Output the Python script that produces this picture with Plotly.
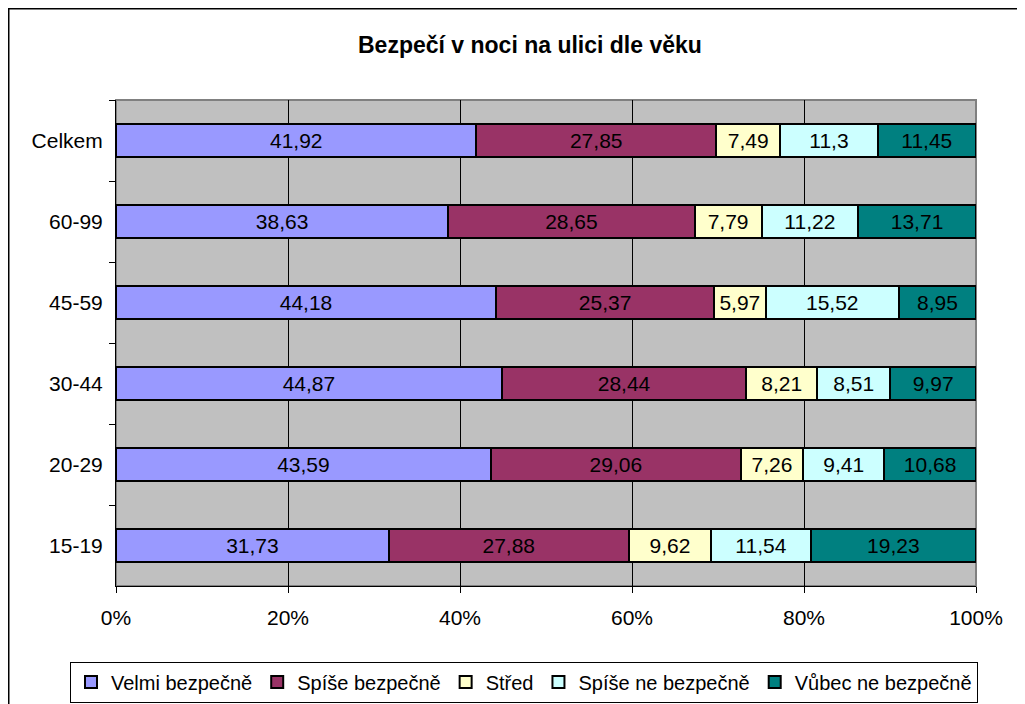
import plotly.graph_objects as go

categories = ["Celkem", "60-99", "45-59", "30-44", "20-29", "15-19"]
series_names = ["Velmi bezpečně", "Spíše bezpečně", "Střed", "Spíše ne bezpečně", "Vůbec ne bezpečně"]
velmi = [41.92, 38.63, 44.18, 44.87, 43.59, 31.73]
spise = [27.85, 28.65, 25.37, 28.44, 29.06, 27.88]
stred = [7.49, 7.79, 5.97, 8.21, 7.26, 9.62]
spise_ne = [11.3, 11.22, 15.52, 8.51, 9.41, 11.54]
vubec = [11.45, 13.71, 8.95, 9.97, 10.68, 19.23]
x_tick_vals = [0, 20, 40, 60, 80, 100]
x_tick_text = ["0%", "20%", "40%", "60%", "80%", "100%"]

colors = ["#9999FF", "#993366", "#FFFFCC", "#CCFFFF", "#008080"]
series = [velmi, spise, stred, spise_ne, vubec]

FONT = "Arial, Liberation Sans, sans-serif"

fig = go.Figure()
for name, vals, col in zip(series_names, series, colors):
    fig.add_trace(go.Bar(
        y=categories, x=vals, name=name, orientation="h",
        marker=dict(color=col, line=dict(color="black", width=2)),
        text=[str(v).replace(".", ",") for v in vals],
        textposition="inside", insidetextanchor="middle", textangle=0,
        textfont=dict(family=FONT, size=21, color="black"),
        hoverinfo="skip",
    ))

# page has an 8px body margin; plot area in page px: x 116..976, y 100..586
def px(xp):
    return (xp - 116) / 860.0
def py(yp):
    return (586 - yp) / 486.0

fig.update_layout(
    width=1017, height=696,
    barmode="stack", barnorm="percent", bargap=0.6,
    paper_bgcolor="white", plot_bgcolor="#C0C0C0",
    margin=dict(l=108, r=49, t=92, b=118, pad=0, autoexpand=False),
    font=dict(family=FONT, size=21, color="black"),
    uniformtext=dict(minsize=21, mode="show"),
    showlegend=True,
    legend=dict(
        orientation="h", x=px(70), y=py(682), xanchor="left", yanchor="middle",
        bordercolor="black", borderwidth=1, bgcolor="white",
        font=dict(family=FONT, size=20, color="black"),
        itemwidth=30, traceorder="normal",
    ),
    annotations=[dict(
        text="<b>Bezpečí v noci na ulici dle věku</b>", xref="paper", yref="paper",
        x=px(530), y=py(45), xanchor="center", yanchor="middle", showarrow=False,
        font=dict(family=FONT, size=23, color="black"),
    )],
    shapes=[
        dict(type="rect", xref="paper", yref="paper", x0=px(8.5), x1=px(1060), y0=py(730), y1=py(8.5),
             line=dict(color="black", width=2), fillcolor="rgba(0,0,0,0)", layer="below"),
        dict(type="rect", xref="paper", yref="paper", x0=0, x1=1, y0=0, y1=1,
             line=dict(color="#808080", width=2), fillcolor="rgba(0,0,0,0)", layer="below"),
    ],
)
fig.update_xaxes(
    range=[0, 100], tickvals=x_tick_vals, ticktext=x_tick_text,
    showgrid=True, gridcolor="black", gridwidth=1,
    showline=True, linecolor="black", linewidth=1,
    ticks="outside", ticklen=6, tickcolor="black", ticklabelstandoff=7,
    zeroline=False, tickfont=dict(family=FONT, size=21, color="black"),
)
fig.update_yaxes(
    autorange="reversed", showgrid=False,
    showline=True, linecolor="black", linewidth=1,
    ticks="outside", tickson="boundaries", ticklen=6, tickcolor="black",
    ticklabelstandoff=8, tickfont=dict(family=FONT, size=21, color="black"),
)

fig.write_html("out.html")
